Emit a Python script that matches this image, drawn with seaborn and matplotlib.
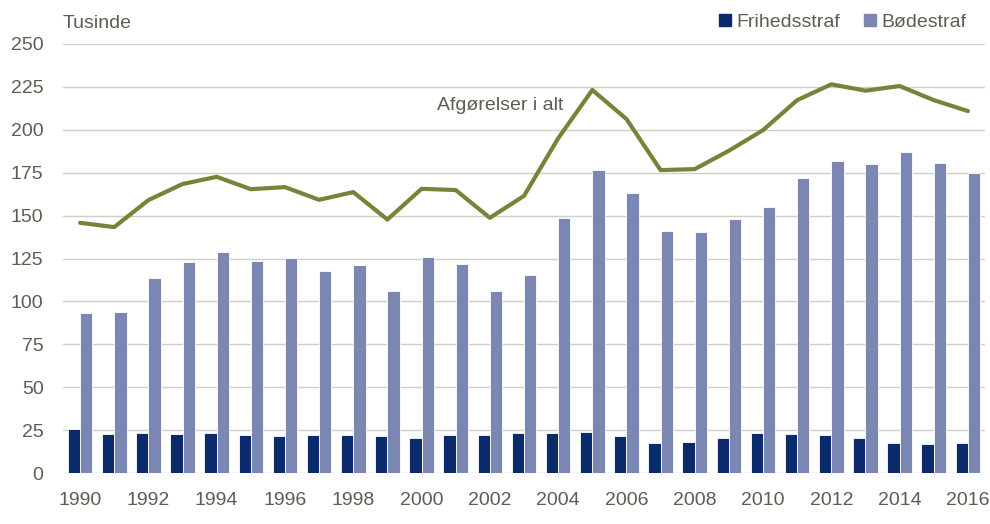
import matplotlib.pyplot as plt
import numpy as np
import pandas as pd
import seaborn as sns
from matplotlib.lines import Line2D

YEARS = list(range(1990, 2017))
FRIHEDSSTRAF = [25.7, 22.9, 23.3, 22.9, 23.5, 22.0, 21.6, 22.0, 22.0, 21.8, 20.2, 22.2, 22.4,
                23.3, 23.3, 24.1, 21.8, 17.3, 18.1, 20.6, 23.3, 22.7, 22.4, 20.6, 17.7, 17.1, 17.5]
BOEDESTRAF = [93.3, 93.7, 113.9, 123.1, 128.5, 123.3, 125.2, 117.6, 121.5, 106.1, 125.6, 121.9, 105.8,
              115.5, 148.5, 176.7, 163.3, 141.3, 140.6, 147.9, 154.9, 171.9, 181.6, 180.2, 186.8, 180.8, 174.8]
AFGOERELSER = [145.8, 143.3, 159.0, 168.4, 172.6, 165.4, 166.6, 159.2, 163.7, 147.7, 165.6, 164.9, 148.7,
               161.5, 195.0, 223.2, 206.3, 176.5, 177.1, 187.8, 199.8, 217.3, 226.5, 222.8, 225.5, 217.3, 210.9]
Y_TICKS = [0, 25, 50, 75, 100, 125, 150, 175, 200, 225, 250]

NAVY = '#0a2a6c'
LIGHT = '#7b86b2'
OLIVE = '#76843a'
TEXT = '#5d5d52'
GRID = '#cfcfc3'


def main():
    sns.set_theme(style='white')
    plt.rcParams['font.family'] = ['Liberation Sans Narrow', 'Liberation Sans', 'DejaVu Sans']

    df = pd.DataFrame({
        'year': YEARS * 2,
        'value': FRIHEDSSTRAF + BOEDESTRAF,
        'type': ['Frihedsstraf'] * len(YEARS) + ['Bødestraf'] * len(YEARS),
    })

    fig = plt.figure(figsize=(9.9, 5.24), dpi=100)
    ax = fig.add_axes([63 / 990, 51 / 524, 922 / 990, 429 / 524])

    sns.barplot(data=df, x='year', y='value', hue='type', palette=[NAVY, LIGHT],
                width=0.72, saturation=1, edgecolor='white', linewidth=0.6,
                legend=False, ax=ax, zorder=2)
    sns.lineplot(x=np.arange(len(YEARS)), y=AFGOERELSER, color=OLIVE, linewidth=3.0,
                 ax=ax, zorder=3)

    ax.set_xlim(-0.5, len(YEARS) - 0.5)
    ax.set_ylim(0, 250)
    ax.set_yticks(Y_TICKS)
    ax.set_yticklabels([str(t) for t in Y_TICKS])
    ax.set_xticks(np.arange(0, len(YEARS), 2))
    ax.set_xticklabels([str(y) for y in YEARS[::2]])
    ax.tick_params(axis='both', labelsize=14, colors=TEXT, length=0)
    ax.tick_params(axis='x', pad=14)
    ax.tick_params(axis='y', pad=14)
    ax.set_xlabel('')
    ax.set_ylabel('')
    ax.yaxis.grid(True, color=GRID, linewidth=1.0, zorder=0)
    ax.set_axisbelow(True)
    sns.despine(ax=ax, left=True, bottom=True)

    ax.text(12.3, 214, 'Afgørelser i alt', ha='center', va='center', fontsize=14, color=TEXT)
    fig.text(63 / 990, 1 - 24 / 524, 'Tusinde', ha='left', va='center', fontsize=14, color=TEXT)

    handles = [
        Line2D([], [], marker='s', linestyle='', markersize=8, color=NAVY),
        Line2D([], [], marker='s', linestyle='', markersize=8, color=LIGHT),
    ]
    fig.legend(handles, ['Frihedsstraf', 'Bødestraf'], loc='center right',
               bbox_to_anchor=(974 / 990, 1 - 22 / 524), ncol=2, frameon=False,
               fontsize=14, labelcolor=TEXT, handlelength=0.6, handletextpad=0.3,
               columnspacing=1.2, borderaxespad=0)

    fig.savefig('out.png', dpi=100)
    plt.close(fig)


if __name__ == '__main__':
    main()
